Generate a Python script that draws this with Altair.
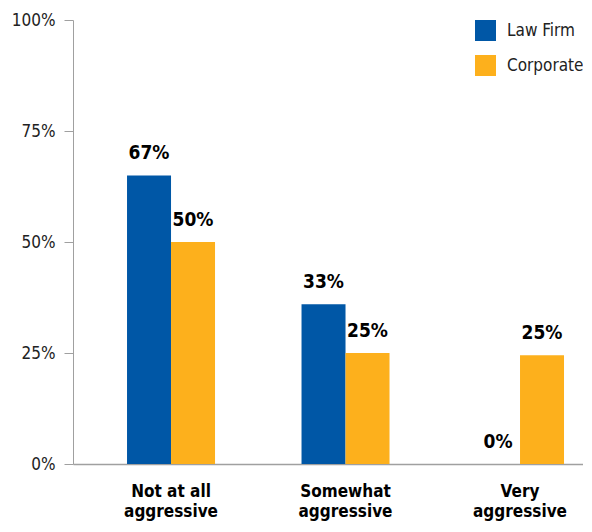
import altair as alt
import pandas as pd

categories = ["Not at all aggressive", "Somewhat aggressive", "Very aggressive"]
series = ["Law Firm", "Corporate"]
law_firm = [65, 36, 0]
corporate = [50, 25, 24.5]
law_firm_labels = ["67%", "33%", "0%"]
corporate_labels = ["50%", "25%", "25%"]
colors = ["#0057A6", "#FDB01C"]

rows = []
for i, c in enumerate(categories):
    rows.append({"cat": c, "series": series[0], "value": law_firm[i], "label": law_firm_labels[i]})
    rows.append({"cat": c, "series": series[1], "value": corporate[i], "label": corporate_labels[i]})
df = pd.DataFrame(rows)

FONT = "Liberation Sans Narrow, DejaVu Sans Condensed, Roboto Condensed, sans-serif"

x = alt.X(
    "cat:N",
    sort=categories,
    title=None,
    scale=alt.Scale(paddingInner=0.4957, paddingOuter=0.2092, align=0.74),
    axis=alt.Axis(
        labelAngle=0,
        ticks=False,
        domainColor="#a0a0a0",
        domainWidth=1.5,
        labelFont=FONT,
        labelFontSize=17,
        labelFontWeight="bold",
        labelColor="#000000",
        labelPadding=19,
        labelLineHeight=20,
        labelExpr="[replace(datum.label, ' aggressive', ''), 'aggressive']",
    ),
)
xoff = alt.XOffset("series:N", sort=series, scale=alt.Scale(paddingInner=0, paddingOuter=0))
y = alt.Y(
    "value:Q",
    title=None,
    scale=alt.Scale(domain=[0, 100], nice=False),
    axis=alt.Axis(
        values=[0, 25, 50, 75, 100],
        grid=False,
        tickSize=9,
        tickColor="#a0a0a0",
        domainColor="#a0a0a0",
        labelFont=FONT,
        labelFontSize=17,
        labelColor="#222222",
        labelPadding=9,
        labelExpr="datum.value + '%'",
    ),
)

bars = alt.Chart(df).mark_bar().encode(
    x=x,
    xOffset=xoff,
    y=y,
    color=alt.Color(
        "series:N",
        sort=series,
        scale=alt.Scale(domain=series, range=colors),
        legend=alt.Legend(
            title=None,
            orient="none",
            legendX=402,
            legendY=0,
            padding=0,
            symbolType="square",
            symbolSize=441,
            symbolStrokeWidth=0,
            rowPadding=14,
            labelOffset=11,
            labelFont=FONT,
            labelFontSize=17,
            labelColor="#222222",
        ),
    ),
)

text = alt.Chart(df).mark_text(
    baseline="bottom", dy=-12, font=FONT, fontSize=19, fontWeight="bold", color="#000000"
).encode(x=alt.X("cat:N", sort=categories), xOffset=xoff, y="value:Q", text="label:N")

chart = (
    alt.layer(bars, text)
    .properties(
        width=510,
        height=444,
        autosize=alt.AutoSizeParams(type="none"),
        padding={"left": 65, "top": 12, "right": 0, "bottom": 59},
    )
    .configure_view(stroke=None)
)

chart.save("out.html", embed_options={"renderer": "svg", "actions": False})
